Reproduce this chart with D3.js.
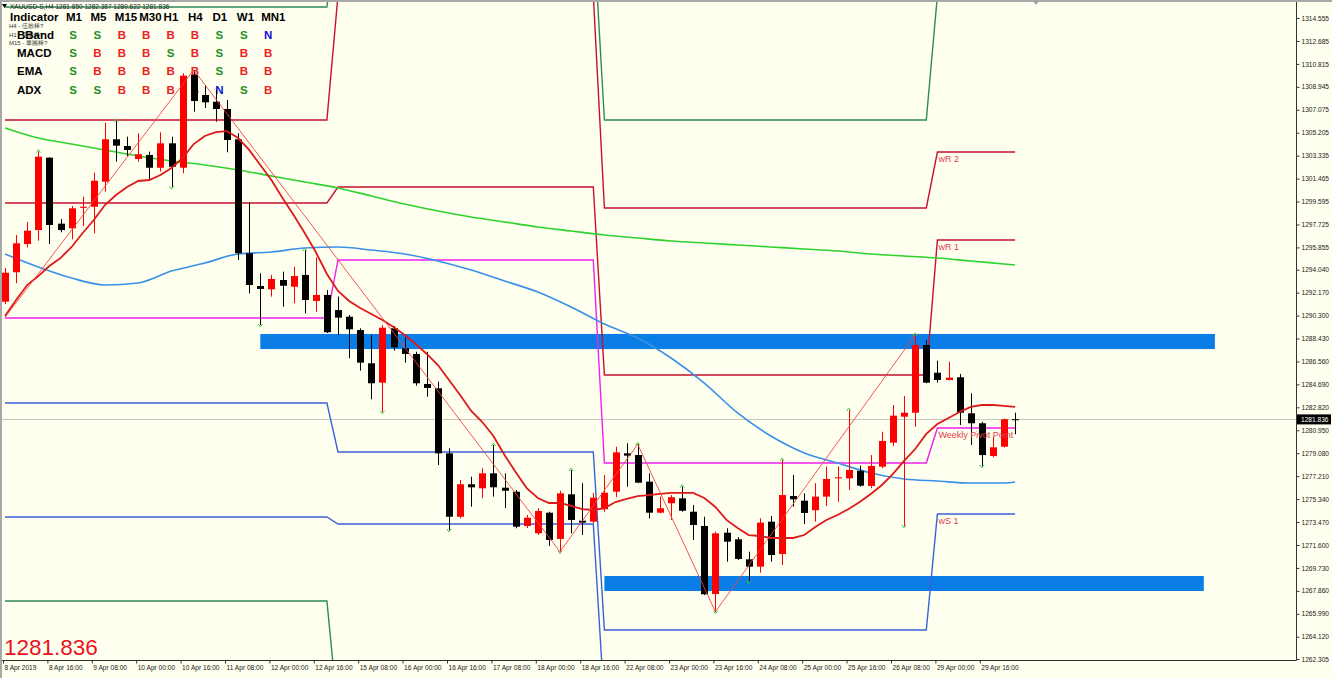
<!DOCTYPE html>
<html>
<head>
<meta charset="utf-8">
<script src="https://cdn.jsdelivr.net/npm/d3@7"></script>
<style>
  body { margin: 0; background: #fffff0; overflow: hidden; }
  svg { display: block; }
  text { font-family: "Liberation Sans", Arial, sans-serif; }
</style>
</head>
<body>
<svg id="chart" width="1332" height="678"></svg>
<script>
// ---- data (XAUUSD H4, 8 Apr - 30 Apr 2019) ----
const open = [1291.43,1293.83,1296.13,1297.27,1303.17,1297.79,1297.41,1299.08,1299.17,1301.21,
  1304.67,1304.12,1303.06,1303.39,1302.35,1304.34,1302.35,1309.91,1308.28,1307.73,
  1307.14,1304.67,1295.38,1292.71,1292.44,1293.20,1292.65,1293.61,1291.49,1291.98,
  1290.75,1290.21,1289.12,1286.41,1284.83,1289.26,1287.63,1287.17,1284.72,1284.37,
  1279.07,1273.90,1276.55,1276.22,1277.44,1276.27,1275.94,1273.15,1272.55,1274.23,
  1272.09,1275.73,1273.58,1273.50,1274.51,1275.94,1279.07,1278.93,1276.76,1274.23,
  1275.00,1275.40,1274.31,1273.15,1267.60,1272.60,1272.06,1270.43,1269.83,1273.50,
  1270.86,1275.59,1275.21,1274.43,1275.54,1277.03,1277.03,1277.65,1276.41,1277.98,
  1279.94,1282.06,1282.38,1287.90,1285.64,1285.05,1285.27,1282.33,1281.52,1278.85,
  1279.61,1281.850];
const high = [1294.18,1296.87,1297.93,1303.66,1303.20,1298.17,1299.23,1299.99,1301.95,1306.02,
  1306.18,1304.88,1305.16,1303.66,1305.24,1304.88,1310.05,1310.32,1309.09,1308.69,
  1307.87,1305.16,1299.50,1293.74,1293.61,1293.88,1294.28,1295.64,1295.05,1292.38,
  1291.84,1290.35,1289.26,1288.72,1289.53,1289.45,1288.53,1287.35,1287.35,1284.91,
  1279.48,1276.90,1277.17,1277.85,1279.75,1277.44,1276.08,1274.04,1274.59,1274.31,
  1276.02,1277.71,1276.63,1275.84,1277.30,1279.61,1279.89,1279.81,1277.44,1275.54,
  1275.67,1276.35,1274.86,1273.90,1272.68,1272.96,1272.25,1271.05,1273.77,1273.96,
  1278.53,1277.30,1275.81,1276.63,1277.98,1278.01,1282.60,1278.06,1278.93,1280.83,
  1283.01,1283.74,1288.72,1288.31,1286.62,1286.54,1285.54,1283.96,1281.65,1280.43,
  1281.90,1282.387];
const low = [1291.24,1292.93,1295.86,1296.40,1296.13,1297.09,1296.52,1297.60,1297.01,1300.40,
  1302.84,1303.31,1302.84,1301.27,1302.03,1300.76,1301.90,1306.92,1307.22,1306.10,
  1303.61,1294.83,1292.11,1289.53,1291.84,1291.02,1291.30,1290.48,1290.61,1288.88,
  1288.72,1286.82,1285.81,1283.47,1282.46,1287.44,1286.46,1284.58,1283.69,1278.12,
  1272.82,1273.77,1274.72,1275.40,1275.54,1274.59,1272.96,1272.98,1272.41,1271.52,
  1271.05,1272.55,1272.41,1273.39,1274.31,1275.49,1276.35,1276.63,1273.77,1274.18,
  1273.64,1274.31,1272.01,1267.52,1266.16,1270.24,1270.37,1268.61,1269.34,1270.24,
  1269.97,1274.72,1273.31,1273.50,1274.78,1275.13,1276.08,1276.35,1276.22,1277.85,
  1279.67,1273.15,1281.24,1284.78,1284.83,1285.01,1281.38,1279.75,1278.04,1278.75,
  1279.55,1280.622];
const close = [1293.79,1296.19,1297.22,1303.25,1297.68,1297.27,1299.04,1299.17,1301.29,1304.67,
  1304.15,1303.80,1303.45,1302.35,1304.34,1302.43,1309.85,1307.79,1307.68,1307.14,
  1304.61,1295.38,1292.79,1292.47,1293.28,1292.73,1293.52,1291.57,1291.98,1288.94,
  1290.13,1289.18,1286.46,1284.78,1289.31,1287.71,1287.17,1284.78,1284.40,1279.07,
  1273.90,1276.55,1276.30,1277.44,1276.30,1276.02,1273.09,1273.82,1274.37,1272.01,
  1275.81,1273.64,1273.42,1275.45,1275.86,1279.15,1278.88,1276.68,1274.23,1274.59,
  1275.49,1274.39,1273.23,1267.58,1272.55,1271.87,1270.46,1269.83,1273.42,1270.78,
  1275.67,1275.32,1274.21,1275.54,1276.98,1277.12,1277.71,1276.43,1278.04,1280.08,
  1282.14,1282.38,1287.90,1284.83,1285.05,1285.24,1282.38,1281.52,1278.93,1279.56,
  1281.85,1281.836];

// red EMA, one value per bar
const emaRed = [1290.26,1291.57,1292.79,1293.52,1294.34,1294.99,1295.89,1297.03,1298.09,1299.31,
  1300.13,1300.78,1301.27,1301.35,1301.76,1302.33,1303.14,1304.28,1304.94,1305.26,
  1305.34,1304.77,1303.80,1302.57,1301.35,1299.88,1298.50,1297.03,1295.48,1293.69,
  1292.30,1291.49,1290.92,1290.43,1289.94,1289.37,1288.72,1287.98,1287.17,1286.27,
  1285.05,1283.82,1282.52,1281.62,1280.48,1278.93,1277.55,1276.24,1275.43,1275.02,
  1275.02,1274.78,1274.53,1274.45,1274.61,1275.10,1275.35,1275.59,1275.67,1275.76,
  1275.84,1275.84,1275.84,1275.43,1274.70,1273.64,1272.98,1272.41,1272.33,1272.17,
  1272.17,1272.17,1272.41,1273.07,1273.64,1274.04,1274.53,1275.10,1275.76,1276.49,
  1277.39,1278.45,1279.42,1280.65,1281.46,1281.95,1282.44,1282.85,1283.01,1283.01,
  1282.93,1282.85];

// slow averages, read every third bar
const maBars = [0,3,6,9,12,15,18,21,24,27,30,33,36,39,42,45,48,51,54,57,60,63,66,69,72,75,78,81,84,87,90,91];
const maBlue = [1295.32,1294.26,1293.36,1292.79,1292.95,1293.93,1294.58,1295.32,1295.48,1295.81,
  1295.89,1295.64,1295.32,1294.75,1294.01,1293.12,1292.22,1291.00,1289.61,1288.47,
  1286.84,1284.80,1282.36,1280.48,1279.10,1278.28,1277.47,1276.98,1276.81,1276.65,
  1276.65,1276.73];
const maGreen = [1305.59,1304.77,1304.28,1303.80,1303.31,1302.90,1302.57,1302.17,1301.68,1301.19,
  1300.70,1300.05,1299.39,1298.82,1298.33,1297.93,1297.52,1297.19,1296.87,1296.62,
  1296.38,1296.21,1296.05,1295.89,1295.73,1295.56,1295.32,1295.15,1294.99,1294.75,
  1294.50,1294.42];

// zigzag turning points [bar, price]
const zigzag = [[0,1290.15],[17,1310.32],[50,1271.05],[57,1279.81],[64,1266.16],[82,1288.72]];

// fractal bars
const fractalUp = [3,10,27,44,51,57,61,70,76,82];
const fractalDown = [15,23,34,40,50,64,67,81,88];

// weekly pivots
const weekStart = [0,30,54,84];
const weekEnd = [29,53,83,91];
const pivR3 = [1315.45,1322.00,1306.24,1316.40];
const pivR2 = [1306.24,1316.40,1299.07,1303.63];
const pivR1 = [1299.48,1300.78,1285.46,1296.46];
const pivP  = [1290.10,1294.83,1278.28,1281.13];
const pivS1 = [1283.17,1279.18,1264.67,1274.12];
const pivS2 = [1273.88,1273.31,1258.50,1257.30];
const pivS3 = [1267.03,1257.70,1250.00,1246.00];

// support / resistance zones
const zoneFrom = [23,54];
const zoneTo = [109,108];
const zoneTop = [1288.80,1269.07];
const zoneBottom = [1287.57,1267.85];

// axes
const yTicks = [1314.555,1312.685,1310.815,1308.945,1307.075,1305.205,1303.335,1301.465,1299.595,
  1297.725,1295.855,1294.040,1292.170,1290.300,1288.430,1286.560,1284.690,1282.820,1280.950,
  1279.080,1277.210,1275.340,1273.470,1271.600,1269.730,1267.860,1265.990,1264.120,1262.305];
const xTickBars = [0,4,8,12,16,20,24,28,32,36,40,44,48,52,56,60,64,68,72,76,80,84,88];
const xTickLabels = ["8 Apr 2019","8 Apr 16:00","9 Apr 08:00","10 Apr 00:00","10 Apr 16:00",
  "11 Apr 08:00","12 Apr 00:00","12 Apr 16:00","15 Apr 08:00","16 Apr 00:00","16 Apr 16:00",
  "17 Apr 08:00","18 Apr 00:00","18 Apr 16:00","22 Apr 08:00","23 Apr 00:00","23 Apr 16:00",
  "24 Apr 08:00","25 Apr 00:00","25 Apr 16:00","26 Apr 08:00","29 Apr 00:00","29 Apr 16:00"];

// signal table
const tfNames = ["M1","M5","M15","M30","H1","H4","D1","W1","MN1"];
const indNames = ["BBand","MACD","EMA","ADX"];
const signals = [
  ["S","S","B","B","B","B","S","S","N"],
  ["S","B","B","B","S","B","S","B","B"],
  ["S","B","B","B","B","B","S","B","B"],
  ["S","S","B","B","B","B","N","S","B"]
];
const notes = ["H4 - 伍散棒?","H1 - 伍散棒?","M15 - 畢圓棒?"];
const lastPrice = 1281.836;

// ---- drawing ----
const svg = d3.select("#chart");
const plotR = 1296, plotB = 660;

const x = d3.scaleLinear().domain([0, 1]).range([5, 16.1]);
const y = d3.scaleLinear().domain([1262.305, 1314.555]).range([659, 18]);

svg.append("rect").attr("width", 1332).attr("height", 678).attr("fill", "#fffff0");

svg.append("defs").append("clipPath").attr("id", "plot")
  .append("rect").attr("x", 2).attr("y", 2).attr("width", plotR - 2).attr("height", plotB - 2);

const g = svg.append("g").attr("clip-path", "url(#plot)");

// zones
g.selectAll("rect.zone").data(zoneFrom).enter().append("rect")
  .attr("class", "zone")
  .attr("x", (d, i) => x(d))
  .attr("width", (d, i) => x(zoneTo[i]) - x(d))
  .attr("y", (d, i) => y(zoneTop[i]))
  .attr("height", (d, i) => y(zoneBottom[i]) - y(zoneTop[i]))
  .attr("fill", "#0b7de6");

// last price line
g.append("line").attr("x1", 2).attr("x2", plotR)
  .attr("y1", Math.round(y(lastPrice)) + 0.5).attr("y2", Math.round(y(lastPrice)) + 0.5)
  .attr("stroke", "#c8c8c0").attr("stroke-width", 1);

// signal table (behind the candles)
const table = svg.append("g");
const colX = i => 73 + 24.4 * i;
notes.forEach((t, i) => {
  table.append("text").attr("x", 9).attr("y", 28 + i * 8.5)
    .attr("font-size", 6).attr("fill", "#333").text(t);
});
table.append("text").attr("x", 10).attr("y", 21).attr("font-size", 11.5)
  .attr("font-weight", "bold").text("Indicator");
tfNames.forEach((t, i) => {
  table.append("text").attr("x", colX(i) - 7).attr("y", 21).attr("font-size", 11.5)
    .attr("font-weight", "bold").text(t);
});
const sigColor = {S: "#1f8f1f", B: "#ee2020", N: "#1010dd"};
indNames.forEach((name, r) => {
  table.append("text").attr("x", 17).attr("y", 39 + r * 18.2).attr("font-size", 11.5)
    .attr("font-weight", "bold").text(name);
  signals[r].forEach((s, c) => {
    table.append("text").attr("x", colX(c)).attr("y", 39 + r * 18.2)
      .attr("text-anchor", "middle").attr("font-size", 11.5).attr("font-weight", "bold")
      .attr("fill", sigColor[s]).text(s);
  });
});

// weekly pivot step lines
function pivotPoints(vals) {
  const pts = [];
  vals.forEach((v, w) => { pts.push([weekStart[w], v]); pts.push([weekEnd[w], v]); });
  return pts;
}
const stepLine = d3.line().x(d => x(d[0])).y(d => y(d[1]));
const pivots = [
  {vals: pivR3, color: "#2e8b57"},
  {vals: pivR2, color: "#c8102e"},
  {vals: pivR1, color: "#c8102e"},
  {vals: pivP,  color: "#f020f0"},
  {vals: pivS1, color: "#3a62d8"},
  {vals: pivS2, color: "#3a62d8"},
  {vals: pivS3, color: "#2e8b57"}
];
const gp = svg.append("g").attr("clip-path", "url(#plot)");
pivots.forEach(p => {
  gp.append("path").attr("d", stepLine(pivotPoints(p.vals)))
    .attr("fill", "none").attr("stroke", p.color).attr("stroke-width", 1.4);
});

// moving averages
const maLine = d3.line().x((d, i) => x(maBars[i])).y(d => y(d)).curve(d3.curveMonotoneX);
gp.append("path").attr("d", maLine(maGreen)).attr("fill", "none")
  .attr("stroke", "#2ed22e").attr("stroke-width", 1.6);
gp.append("path").attr("d", maLine(maBlue)).attr("fill", "none")
  .attr("stroke", "#3990e8").attr("stroke-width", 1.6);

// candles
const bars = d3.range(open.length);
const gc = svg.append("g").attr("clip-path", "url(#plot)");
const up = i => close[i] > open[i];
gc.selectAll("line.wick").data(bars).enter().append("line")
  .attr("x1", i => Math.round(x(i)) + 0.5).attr("x2", i => Math.round(x(i)) + 0.5)
  .attr("y1", i => y(high[i])).attr("y2", i => y(low[i]))
  .attr("stroke", i => up(i) ? "#ff0000" : "#000").attr("stroke-width", 1);
gc.selectAll("rect.body").data(bars).enter().append("rect")
  .attr("x", i => Math.round(x(i)) - 3)
  .attr("width", 7)
  .attr("y", i => y(Math.max(open[i], close[i])))
  .attr("height", i => Math.max(1, y(Math.min(open[i], close[i])) - y(Math.max(open[i], close[i]))))
  .attr("fill", i => up(i) ? "#ff0000" : "#000");

// EMA + zigzag
gc.append("path").attr("d", d3.line().x((d, i) => x(i)).y(d => y(d))(emaRed))
  .attr("fill", "none").attr("stroke", "#dd1a1a").attr("stroke-width", 1.8);
gc.append("path").attr("d", d3.line().x(d => x(d[0])).y(d => y(d[1]))(zigzag))
  .attr("fill", "none").attr("stroke", "#ee4444").attr("stroke-width", 0.9);

// fractal marks
gc.selectAll("path.fup").data(fractalUp).enter().append("path")
  .attr("d", i => `M${x(i) - 2},${y(high[i]) + 1}L${x(i)},${y(high[i]) - 2}L${x(i) + 2},${y(high[i]) + 1}`)
  .attr("fill", "none").attr("stroke", "#3cc83c").attr("stroke-width", 1);
gc.selectAll("path.fdn").data(fractalDown).enter().append("path")
  .attr("d", i => `M${x(i) - 2},${y(low[i]) - 1}L${x(i)},${y(low[i]) + 2}L${x(i) + 2},${y(low[i]) - 1}`)
  .attr("fill", "none").attr("stroke", "#3cc83c").attr("stroke-width", 1);

// pivot labels for the current week
const pivLabels = [["wR 2", pivR2[3]], ["wR 1", pivR1[3]], ["Weekly Pivot Point", pivP[3]], ["wS 1", pivS1[3]]];
pivLabels.forEach(l => {
  svg.append("text").attr("x", x(weekStart[3]) + 1).attr("y", y(l[1]) + 10)
    .attr("font-size", 9).attr("fill", "#e0404c").text(l[0]);
});

// right price axis
svg.append("line").attr("x1", plotR + 0.5).attr("x2", plotR + 0.5).attr("y1", 2).attr("y2", plotB + 0.5)
  .attr("stroke", "#333");
const yAxis = svg.append("g").attr("transform", `translate(${plotR + 0.5},0)`)
  .call(d3.axisRight(y).tickValues(yTicks).tickSize(3).tickPadding(2).tickFormat(d3.format(".3f")));
yAxis.select(".domain").remove();
yAxis.selectAll("text").attr("font-size", 6.6).attr("font-family", "Liberation Sans, Arial").attr("fill", "#222");
yAxis.selectAll("line").attr("stroke", "#333");

// last price tag
const tagY = y(lastPrice);
svg.append("rect").attr("x", plotR + 1).attr("y", tagY - 5).attr("width", 34).attr("height", 10).attr("fill", "#000");
svg.append("text").attr("x", plotR + 5).attr("y", tagY + 2.5).attr("font-size", 6.6).attr("fill", "#fff")
  .text(lastPrice.toFixed(3));

// time axis
svg.append("line").attr("x1", 0).attr("x2", plotR + 0.5).attr("y1", plotB + 0.5).attr("y2", plotB + 0.5)
  .attr("stroke", "#333");
const xAxis = svg.append("g").attr("transform", `translate(0,${plotB + 0.5})`)
  .call(d3.axisBottom(x).tickValues(xTickBars).tickSize(3).tickFormat((d, i) => xTickLabels[i]));
xAxis.select(".domain").remove();
xAxis.selectAll("line").attr("transform", "translate(-2,0)").attr("stroke", "#333");
xAxis.selectAll("text").attr("text-anchor", "start").attr("x", -1).attr("dy", "0.5em")
  .attr("font-size", 6.6).attr("font-family", "Liberation Sans, Arial").attr("fill", "#222");

// frame
svg.append("rect").attr("x", 0).attr("y", 0).attr("width", 1332).attr("height", 2).attr("fill", "#a8a8a8");
svg.append("rect").attr("x", 0).attr("y", 0).attr("width", 2).attr("height", 678).attr("fill", "#a8a8a8");
svg.append("path").attr("d", "M1033,1L1039,1L1036,5Z").attr("fill", "#a0a0a0");

// header + last price
svg.append("path").attr("d", "M2,4L7,4L4.5,8Z").attr("fill", "#000");
svg.append("text").attr("x", 10).attr("y", 9).attr("font-size", 6.5).attr("fill", "#222")
  .text("XAUUSD-S,H4  1281.850 1282.387 1280.622 1281.836");
svg.append("text").attr("x", 4).attr("y", 655).attr("font-size", 22.5).attr("fill", "#e8141e")
  .text(lastPrice.toFixed(3));
</script>
</body>
</html>
